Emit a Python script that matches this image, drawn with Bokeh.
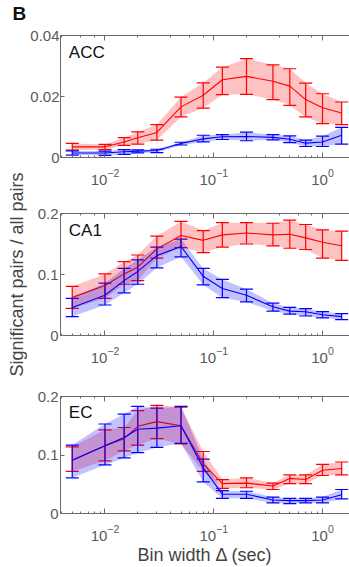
import math
from bokeh.plotting import figure
from bokeh.models import (ColumnDataSource, Whisker, TeeHead, LogAxis, LogTicker,
                          FixedTicker, CustomJSTickFormatter, Label)
from bokeh.layouts import column, row
from bokeh.embed import file_html
from bokeh.resources import INLINE

bin_width = [0.005, 0.01, 0.015, 0.02, 0.03, 0.05, 0.08, 0.12, 0.2, 0.35, 0.5, 0.7, 1.0, 1.5]

acc_red = [0.0035, 0.0035, 0.0051, 0.0065, 0.0082, 0.0166, 0.0204, 0.0255, 0.0266, 0.0250, 0.0234, 0.0190, 0.0163, 0.0146]
acc_red_hi = [0.0046, 0.0043, 0.0065, 0.0084, 0.0108, 0.0198, 0.0245, 0.0296, 0.0324, 0.0304, 0.0291, 0.0244, 0.0209, 0.0182]
acc_red_lo = [0.0024, 0.0026, 0.0040, 0.0044, 0.0057, 0.0133, 0.0162, 0.0206, 0.0207, 0.0190, 0.0171, 0.0133, 0.0111, 0.0108]
acc_blue = [0.0015, 0.0015, 0.0019, 0.0021, 0.0023, 0.0046, 0.0061, 0.0068, 0.0069, 0.0066, 0.0060, 0.0047, 0.0051, 0.0073]
acc_blue_hi = [0.0022, 0.0021, 0.0026, 0.0025, 0.0027, 0.0050, 0.0073, 0.0075, 0.0083, 0.0075, 0.0071, 0.0057, 0.0070, 0.0099]
acc_blue_lo = [0.0008, 0.0007, 0.0010, 0.0015, 0.0016, 0.0041, 0.0051, 0.0059, 0.0055, 0.0058, 0.0049, 0.0036, 0.0036, 0.0044]

ca1_red = [0.0625, 0.082, 0.101, 0.112, 0.142, 0.164, 0.156, 0.165, 0.168, 0.165, 0.166, 0.160, 0.153, 0.147]
ca1_red_hi = [0.0805, 0.101, 0.121, 0.132, 0.163, 0.187, 0.172, 0.185, 0.185, 0.184, 0.189, 0.182, 0.173, 0.171]
ca1_red_lo = [0.0444, 0.061, 0.084, 0.090, 0.127, 0.144, 0.136, 0.145, 0.150, 0.147, 0.143, 0.141, 0.127, 0.123]
ca1_blue = [0.046, 0.066, 0.090, 0.105, 0.131, 0.146, 0.097, 0.077, 0.066, 0.047, 0.040, 0.039, 0.034, 0.031]
ca1_blue_hi = [0.061, 0.086, 0.110, 0.124, 0.145, 0.158, 0.110, 0.092, 0.076, 0.053, 0.046, 0.044, 0.039, 0.036]
ca1_blue_lo = [0.031, 0.050, 0.070, 0.084, 0.111, 0.129, 0.083, 0.062, 0.055, 0.040, 0.035, 0.032, 0.029, 0.026]

ec_red = [0.091, 0.116, 0.128, 0.149, 0.157, 0.150, 0.085, 0.051, 0.052, 0.047, 0.060, 0.058, 0.074, 0.077]
ec_red_hi = [0.114, 0.143, 0.147, 0.176, 0.185, 0.182, 0.106, 0.058, 0.061, 0.052, 0.066, 0.066, 0.084, 0.088]
ec_red_lo = [0.072, 0.090, 0.107, 0.117, 0.128, 0.119, 0.072, 0.043, 0.044, 0.041, 0.051, 0.051, 0.065, 0.066]
ec_blue = [0.091, 0.116, 0.130, 0.144, 0.146, 0.150, 0.078, 0.033, 0.033, 0.023, 0.022, 0.022, 0.023, 0.032]
ec_blue_hi = [0.117, 0.153, 0.170, 0.183, 0.180, 0.183, 0.093, 0.039, 0.038, 0.028, 0.026, 0.026, 0.028, 0.041]
ec_blue_lo = [0.061, 0.083, 0.095, 0.104, 0.113, 0.120, 0.054, 0.026, 0.026, 0.018, 0.017, 0.018, 0.018, 0.025]

panel_names = ["ACC", "CA1", "EC"]
y_max = [0.04, 0.2, 0.2]
y_ticks = [[0, 0.02, 0.04], [0, 0.1, 0.2], [0, 0.1, 0.2]]
y_label = "Significant pairs / all pairs"
x_label = "Bin width \u0394 (sec)"
figure_letter = "B"

FONT = "Liberation Sans"
AX = "#6a6a6a"
LBL = "#5a5a5a"
RED = "#ff0000"
BLUE = "#0000ff"
LEFT_W = 27
TOTAL_H = 567


def panel(idx, height, btop, bbottom, series, xlabel=None, ystandoff=2):
    p = figure(width=349 - LEFT_W, height=height, x_axis_type="log", x_range=(0.0039, 1.77),
               y_range=(0, y_max[idx]), output_backend="svg", toolbar_location=None,
               min_border_left=57 - LEFT_W, min_border_right=0, min_border_top=btop,
               min_border_bottom=bbottom)
    p.outline_line_color = None
    p.grid.visible = False
    p.background_fill_color = "white"
    p.border_fill_color = "white"

    xa = p.xaxis[0]
    xa.axis_line_color = AX
    xa.major_tick_line_color = AX
    xa.minor_tick_line_color = AX
    xa.major_tick_in = 5
    xa.major_tick_out = 0
    xa.minor_tick_in = 2
    xa.minor_tick_out = 0
    xa.major_label_text_font = FONT
    xa.major_label_text_font_size = "15px"
    xa.major_label_text_color = LBL
    xa.major_label_standoff = 11
    if xlabel:
        xa.axis_label = xlabel
        xa.axis_label_text_font = FONT
        xa.axis_label_text_font_size = "18px"
        xa.axis_label_text_font_style = "normal"
        xa.axis_label_text_color = "#444444"
        xa.axis_label_standoff = 1

    top = LogAxis(ticker=LogTicker(), formatter=CustomJSTickFormatter(code='return ""'),
                  major_tick_in=5, major_tick_out=0, minor_tick_in=2, minor_tick_out=0,
                  axis_line_color=AX, major_tick_line_color=AX, minor_tick_line_color=AX,
                  major_label_standoff=0, major_label_text_font_size="1px")
    p.add_layout(top, "above")

    ya = p.yaxis[0]
    ya.ticker = FixedTicker(ticks=y_ticks[idx])
    ya.formatter = CustomJSTickFormatter(code='return tick === 0 ? "0" : String(Math.round(tick*1000)/1000)')
    ya.axis_line_color = AX
    ya.major_tick_line_color = AX
    ya.minor_tick_line_color = None
    ya.major_tick_in = 4
    ya.major_tick_out = 0
    ya.major_label_text_font = FONT
    ya.major_label_text_font_size = "15px"
    ya.major_label_text_color = LBL
    ya.major_label_standoff = ystandoff

    for (mean, hi, lo, col) in series:
        src = ColumnDataSource(dict(x=bin_width, y=mean, hi=hi, lo=lo))
        p.varea(x="x", y1="lo", y2="hi", source=src, fill_color=col, fill_alpha=0.24)
        p.line(x="x", y="y", source=src, line_color=col, line_width=1.1)
        w = Whisker(source=src, base="x", upper="hi", lower="lo", dimension="height",
                    line_color=col, line_width=1.2,
                    upper_head=TeeHead(size=13, line_color=col, line_width=1.2),
                    lower_head=TeeHead(size=13, line_color=col, line_width=1.2))
        p.add_layout(w)

    ymx = y_max[idx]
    p.add_layout(Label(x=0.00465, y=ymx * (1 - 7.0 / 122), text=panel_names[idx],
                       text_font=FONT, text_font_size="17px", text_color="#111111",
                       text_baseline="top", text_align="left"))
    return p


p1 = panel(0, 35 + 122 + 36, 35, 36,
           [(acc_red, acc_red_hi, acc_red_lo, RED), (acc_blue, acc_blue_hi, acc_blue_lo, BLUE)],
           ystandoff=1)
p2 = panel(1, 20 + 122 + 36, 20, 36,
           [(ca1_red, ca1_red_hi, ca1_red_lo, RED), (ca1_blue, ca1_blue_hi, ca1_blue_lo, BLUE)])
p3 = panel(2, 25 + 121 + 50, 25, 50,
           [(ec_red, ec_red_hi, ec_red_lo, RED), (ec_blue, ec_blue_hi, ec_blue_lo, BLUE)],
           xlabel=x_label)

# narrow strip holding the panel letter and the shared y-axis title
lab = figure(width=LEFT_W, height=TOTAL_H, x_range=(0, LEFT_W), y_range=(0, TOTAL_H),
             output_backend="svg", toolbar_location=None, min_border=0,
             min_border_left=0, min_border_right=0, min_border_top=0, min_border_bottom=0,
             x_axis_location=None, y_axis_location=None)
lab.outline_line_color = None
lab.grid.visible = False
lab.add_layout(Label(x=16.2, y=TOTAL_H - 274, text=y_label, angle=math.pi / 2,
                     text_font=FONT, text_font_size="18px", text_color="#444444",
                     text_align="center", text_baseline="middle"))
lab.add_layout(Label(x=12, y=TOTAL_H - 2, text=figure_letter,
                     text_font=FONT, text_font_size="19px", text_font_style="bold",
                     text_color="#111111", text_align="left", text_baseline="top"))

layout = row(lab, column(p1, p2, p3, spacing=0), spacing=0)
open("out.html", "w").write(file_html(layout, INLINE))
